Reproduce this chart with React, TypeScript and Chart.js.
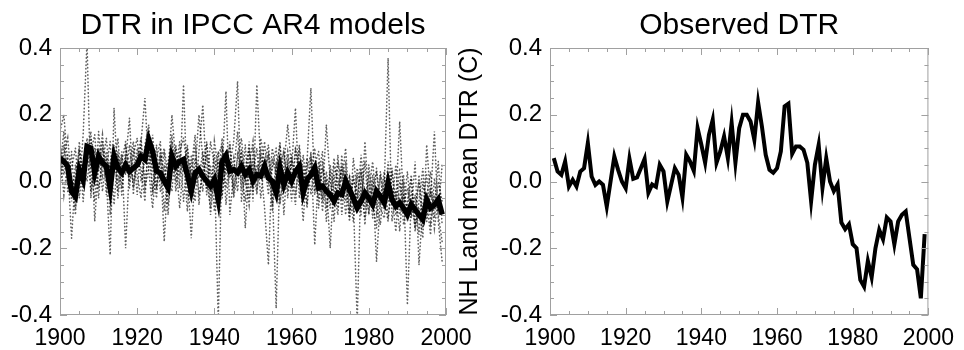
import React, { useEffect, useRef } from "react";
import { Chart, registerables } from "chart.js";
Chart.register(...registerables);

const FONT = '"Liberation Sans", Arial, Helvetica, sans-serif';

const leftTitle = "DTR in IPCC AR4 models";
const rightTitle = "Observed DTR";
const rightYLabel = "NH Land mean DTR (C)";

const modelYears = Array.from({ length: 100 }, (_, i) => 1900 + i);
const obsYears = Array.from({ length: 99 }, (_, i) => 1901 + i);

const modelMean = [
  0.07, 0.06, 0.045, -0.03, -0.045, 0.035, 0.005, 0.105, 0.1, 0.026,
  0.076, 0.056, 0.046, -0.02, 0.076, 0.041, 0.026, 0.05, 0.03, 0.04,
  0.05, 0.076, 0.066, 0.125, 0.09, 0.031, 0.026, 0.001, -0.019, 0.076,
  0.046, 0.06, 0.066, 0.02, -0.029, 0.026, 0.036, 0.016, 0.001, -0.014,
  0.006, -0.054, 0.06, 0.078, 0.031, 0.036, 0.026, 0.046, 0.021, 0.036,
  0.001, 0.021, 0.016, 0.046, 0.01, 0.001, -0.034, 0.041, -0.009, 0.026,
  0.001, 0.03, 0.046, -0.034, 0.006, 0.02, 0.041, -0.019, -0.014, -0.029,
  -0.04, -0.059, -0.034, -0.039, 0.001, -0.024, -0.05, -0.079, -0.059, -0.034,
  -0.05, -0.069, -0.029, -0.044, -0.064, -0.004, -0.054, -0.074, -0.064, -0.08,
  -0.099, -0.069, -0.084, -0.1, -0.114, -0.054, -0.079, -0.07, -0.054, -0.099,
];

const modelA = [
  0.12, 0.02, 0.08, -0.06, 0.05, -0.02, 0.14, 0.42, -0.05, 0.10,
  0.03, 0.12, -0.04, 0.06, 0.10, -0.03, 0.08, 0.02, 0.11, -0.02,
  0.07, 0.13, 0.00, 0.09, 0.04, -0.05, 0.10, 0.01, 0.06, 0.12,
  -0.03, 0.08, 0.03, 0.11, -0.06, 0.07, 0.01, 0.09, -0.04, 0.12,
  0.05, -0.42, 0.10, 0.02, 0.12, -0.04, 0.08, 0.03, -0.06, 0.09,
  0.02, 0.10, -0.05, 0.06, 0.11, -0.02, -0.38, 0.05, 0.09, -0.03,
  0.07, 0.01, 0.10, -0.06, 0.04, 0.08, -0.04, 0.06, -0.09, 0.03,
  -0.05, 0.07, -0.02, 0.04, -0.10, 0.02, -0.06, -0.42, 0.03, -0.08,
  0.01, -0.11, 0.04, -0.07, -0.02, 0.37, -0.12, -0.03, -0.15, 0.00,
  -0.37, -0.05, -0.14, 0.02, -0.12, -0.06, -0.16, 0.01, -0.10, -0.18,
];
const modelB = [
  0.04, 0.15, -0.03, 0.09, -0.08, 0.06, 0.00, 0.13, 0.04, -0.06,
  0.15, 0.02, 0.09, -0.10, 0.05, 0.13, -0.02, 0.07, 0.00, 0.10,
  -0.04, 0.12, 0.25, 0.03, -0.08, 0.06, 0.00, 0.09, -0.07, 0.05,
  0.10, -0.02, 0.29, -0.05, 0.04, 0.14, -0.07, 0.06, 0.11, -0.05,
  0.08, 0.00, 0.13, -0.07, 0.05, 0.12, 0.30, -0.06, 0.04, 0.10,
  -0.06, 0.29, 0.05, -0.08, -0.25, 0.07, 0.02, 0.12, -0.10, 0.08,
  -0.02, 0.10, 0.04, -0.12, 0.06, 0.28, -0.03, 0.02, 0.09, -0.08,
  0.03, -0.12, 0.06, 0.00, 0.10, -0.09, 0.01, -0.05, 0.04, -0.13,
  0.05, -0.06, -0.14, 0.02, -0.09, 0.06, -0.04, -0.15, 0.00, -0.08,
  0.03, -0.11, -0.04, -0.16, 0.00, -0.09, -0.02, -0.14, -0.05, -0.08,
];
const modelC = [
  0.15, 0.20, 0.05, -0.17, 0.02, 0.10, -0.06, 0.08, 0.15, -0.12,
  0.06, 0.14, 0.01, -0.22, 0.22, 0.00, 0.09, -0.20, 0.05, 0.12,
  0.02, -0.05, 0.11, 0.17, -0.03, 0.07, 0.12, -0.09, 0.03, 0.14,
  0.00, 0.09, 0.13, 0.04, -0.17, 0.03, 0.20, 0.07, -0.02, 0.05,
  -0.09, 0.06, 0.03, 0.27, -0.10, 0.03, 0.15, -0.02, 0.11, -0.05,
  0.09, 0.00, 0.13, 0.06, -0.04, 0.10, 0.03, -0.07, 0.05, 0.17,
  0.04, 0.22, -0.05, 0.08, -0.02, 0.03, 0.10, -0.08, 0.04, 0.00,
  -0.20, 0.02, -0.08, 0.05, 0.00, -0.12, 0.07, -0.03, -0.10, 0.12,
  -0.06, 0.02, -0.09, 0.03, -0.05, -0.12, 0.04, -0.06, 0.18, -0.07,
  -0.02, -0.10, 0.06, -0.25, -0.07, 0.02, -0.12, -0.04, -0.09, 0.05,
];
const modelD = [
  -0.02, 0.08, 0.13, 0.00, -0.10, 0.09, 0.03, 0.11, -0.03, 0.07,
  -0.05, 0.10, 0.04, 0.12, -0.07, 0.08, 0.02, 0.06, 0.19, -0.04,
  0.10, 0.04, -0.06, 0.15, 0.05, -0.02, 0.08, -0.18, 0.03, 0.20,
  0.06, -0.08, 0.05, 0.10, 0.02, -0.06, 0.09, 0.23, 0.00, -0.08,
  0.12, 0.04, -0.05, 0.09, 0.01, 0.07, -0.03, 0.10, -0.14, 0.05,
  0.12, -0.03, 0.08, 0.01, 0.09, -0.07, 0.06, -0.02, 0.10, -0.05,
  0.08, -0.04, 0.06, 0.03, -0.07, 0.09, -0.19, 0.04, -0.05, 0.17,
  0.00, -0.06, 0.08, -0.10, 0.03, -0.04, -0.12, 0.02, -0.07, 0.06,
  -0.10, 0.00, -0.24, -0.05, 0.03, -0.11, -0.02, -0.08, 0.04, -0.13,
  -0.06, 0.02, -0.13, -0.08, -0.17, 0.11, -0.05, 0.15, -0.12, -0.24,
];
const modelE = [
  0.09, -0.04, 0.06, 0.01, -0.06, 0.12, -0.02, 0.07, 0.13, 0.02,
  0.10, -0.03, 0.07, 0.04, 0.11, -0.05, 0.06, 0.12, -0.02, 0.08,
  0.13, 0.00, 0.07, 0.10, -0.04, 0.11, -0.03, 0.05, -0.10, 0.08,
  0.03, 0.12, -0.06, 0.07, 0.01, 0.11, -0.04, 0.02, 0.08, -0.10,
  0.03, 0.09, -0.04, 0.06, 0.10, -0.02, 0.07, 0.13, 0.01, -0.07,
  0.06, -0.04, 0.10, 0.03, 0.08, -0.09, 0.04, 0.11, -0.02, 0.06,
  -0.06, 0.09, 0.02, 0.05, -0.08, 0.07, 0.01, -0.05, 0.06, -0.12,
  0.05, -0.03, -0.10, 0.08, -0.06, 0.01, -0.09, 0.04, -0.02, -0.11,
  -0.03, 0.06, -0.07, -0.13, 0.01, -0.06, 0.03, -0.10, -0.05, 0.02,
  -0.12, -0.03, -0.08, 0.00, -0.14, -0.05, 0.03, -0.11, 0.00, -0.06,
];
const modelF = [
  0.01, 0.11, -0.01, 0.04, 0.10, -0.05, 0.06, 0.00, 0.09, 0.14,
  -0.02, 0.05, 0.13, 0.01, 0.03, 0.09, -0.04, 0.10, 0.05, 0.00,
  0.06, 0.11, -0.02, 0.04, 0.14, -0.01, 0.06, 0.10, 0.02, -0.03,
  0.11, 0.02, 0.07, -0.09, 0.08, 0.00, 0.05, -0.03, 0.12, 0.01,
  -0.03, 0.08, 0.11, -0.02, 0.06, -0.05, 0.03, 0.09, -0.01, 0.12,
  -0.03, 0.05, 0.01, 0.12, -0.01, 0.04, 0.10, -0.06, 0.02, 0.09,
  0.02, -0.07, 0.11, -0.01, 0.07, -0.04, 0.05, 0.09, -0.06, 0.01,
  -0.08, 0.04, 0.01, -0.06, 0.06, -0.11, 0.02, -0.07, 0.08, -0.04,
  -0.09, -0.02, 0.03, -0.08, -0.11, 0.00, -0.07, 0.05, -0.10, -0.04,
  -0.08, 0.01, -0.15, -0.06, 0.04, -0.12, -0.03, -0.08, 0.06, -0.13,
];

const observed = [
  0.07, 0.03, 0.02, 0.06, -0.015, 0.005, -0.015, 0.03, 0.04,
  0.115, 0.015, -0.01, 0.0, -0.01, -0.075, 0.0, 0.075, 0.035, 0.0,
  -0.02, 0.068, 0.008, 0.012, 0.04, 0.068, -0.034, -0.009, -0.016, 0.05,
  0.03, -0.06, -0.01, 0.04, 0.02, -0.048, 0.08, 0.06, 0.032, 0.16,
  0.11, 0.056, 0.14, 0.185, 0.056, 0.09, 0.135, 0.07, 0.175, 0.056,
  0.16, 0.2, 0.2, 0.18, 0.125, 0.237, 0.165, 0.08, 0.035, 0.026,
  0.04, 0.09, 0.225, 0.233, 0.083, 0.105, 0.105, 0.095, 0.056, -0.059,
  0.05, 0.11, -0.019, 0.07, 0.0, -0.029, -0.009, -0.123, -0.143, -0.128,
  -0.188, -0.2, -0.295, -0.315, -0.238, -0.287, -0.2, -0.145, -0.173, -0.108,
  -0.12, -0.188, -0.12, -0.1, -0.09, -0.17, -0.25, -0.263, -0.35, -0.158,
];

const modelRuns = [modelA, modelB, modelC, modelD, modelE, modelF];

const xMin = 1900;
const xMax = 2000;
const xStep = 20;
const yMin = -0.4;
const yMax = 0.4;
const yStep = 0.2;

const pts = (xs: number[], ys: number[]) => xs.map((x, i) => ({ x, y: ys[i] }));

const boxTicks = {
  id: "boxTicks",
  afterDatasetsDraw(chart: any) {
    const { ctx, chartArea: a, scales } = chart;
    const xs = scales.x;
    const ys = scales.y;
    ctx.save();
    ctx.strokeStyle = "#a0a0a0";
    ctx.lineWidth = 1;
    ctx.strokeRect(a.left + 0.5, a.top + 0.5, a.right - a.left - 1, a.bottom - a.top - 1);
    ctx.beginPath();
    for (let yr = xMin; yr <= xMax; yr += 5) {
      const px = Math.round(xs.getPixelForValue(yr)) + 0.5;
      const len = (yr - xMin) % xStep === 0 ? 7 : 4;
      ctx.moveTo(px, a.bottom);
      ctx.lineTo(px, a.bottom - len);
      ctx.moveTo(px, a.top);
      ctx.lineTo(px, a.top + len);
    }
    for (let k = -8; k <= 8; k++) {
      const v = k * 0.05;
      const py = Math.round(ys.getPixelForValue(v)) + 0.5;
      const len = k % 4 === 0 ? 7 : 4;
      ctx.moveTo(a.left, py);
      ctx.lineTo(a.left + len, py);
      ctx.moveTo(a.right, py);
      ctx.lineTo(a.right - len, py);
    }
    ctx.stroke();
    ctx.restore();
  },
};

function makeOptions(title: string, yWidth: number, padRight: number, yTitle?: string): any {
  return {
    responsive: false,
    animation: false,
    layout: { padding: { left: 0, right: padRight, top: 0, bottom: 0 } },
    plugins: {
      legend: { display: false },
      tooltip: { enabled: false },
      title: {
        display: true,
        text: title,
        color: "#000",
        fullSize: false,
        font: { family: FONT, size: 30, weight: "normal", lineHeight: 1.2 },
        padding: { top: 8, bottom: 4 },
      },
    },
    scales: {
      x: {
        type: "linear",
        min: xMin,
        max: xMax,
        grid: { display: false, drawTicks: false },
        border: { display: false },
        ticks: {
          stepSize: xStep,
          autoSkip: false,
          maxRotation: 0,
          padding: 10,
          color: "#000",
          font: { family: FONT, size: 23 },
          callback: (v: any) => String(v),
        },
        afterFit: (s: any) => {
          s.height = 35;
        },
      },
      y: {
        type: "linear",
        min: yMin,
        max: yMax,
        grid: { display: false, drawTicks: false },
        border: { display: false },
        title: yTitle
          ? {
              display: true,
              text: yTitle,
              color: "#000",
              font: { family: FONT, size: 25 },
              padding: { top: 5, bottom: 0 },
            }
          : { display: false },
        ticks: {
          stepSize: yStep,
          padding: 8,
          color: "#000",
          font: { family: FONT, size: 24 },
          callback: (v: any) => (Math.abs(Number(v)) < 1e-9 ? "0.0" : Number(v).toFixed(1)),
        },
        afterFit: (s: any) => {
          s.width = yWidth;
        },
      },
    },
  };
}

export default function App() {
  const leftRef = useRef<HTMLCanvasElement>(null);
  const rightRef = useRef<HTMLCanvasElement>(null);

  useEffect(() => {
    Chart.defaults.font.family = FONT;
    const dotted = modelRuns.map((run) => ({
      data: pts(modelYears, run),
      borderColor: "rgba(0,0,0,0.62)",
      borderWidth: 1.6,
      borderDash: [0.4, 3.2],
      borderCapStyle: "round",
      pointRadius: 0,
      tension: 0,
      order: 1,
    }));
    const left = new Chart(leftRef.current as HTMLCanvasElement, {
      type: "line",
      data: {
        datasets: [
          {
            data: pts(modelYears, modelMean),
            borderColor: "#000",
            borderWidth: 5.5,
            pointRadius: 0,
            tension: 0,
            order: 0,
          } as any,
          ...(dotted as any[]),
        ],
      },
      options: makeOptions(leftTitle, 60, 36),
      plugins: [boxTicks],
    });
    const right = new Chart(rightRef.current as HTMLCanvasElement, {
      type: "line",
      data: {
        datasets: [
          {
            data: pts(obsYears, observed),
            borderColor: "#000",
            borderWidth: 4,
            pointRadius: 0,
            tension: 0,
          } as any,
        ],
      },
      options: makeOptions(rightTitle, 100, 27, rightYLabel),
      plugins: [boxTicks],
    });
    return () => {
      left.destroy();
      right.destroy();
    };
  }, []);

  return (
    <div style={{ position: "absolute", left: 0, top: 0, width: 964, height: 350, background: "#fff" }}>
      <canvas
        ref={leftRef}
        width={482}
        height={350}
        style={{ position: "absolute", left: 0, top: 0, width: 482, height: 350 }}
      />
      <canvas
        ref={rightRef}
        width={514}
        height={350}
        style={{ position: "absolute", left: 450, top: 0, width: 514, height: 350 }}
      />
    </div>
  );
}
